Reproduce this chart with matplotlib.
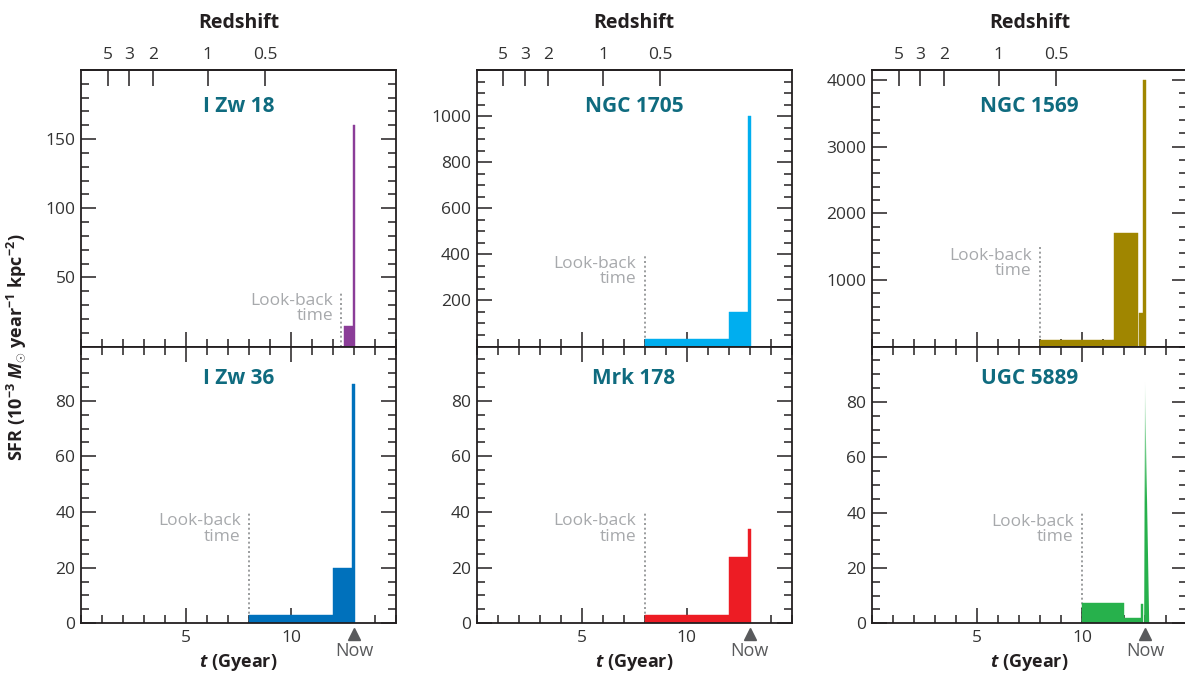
import matplotlib
matplotlib.use("Agg")
import matplotlib.pyplot as plt
import numpy as np
from matplotlib.ticker import MultipleLocator, FixedLocator, NullLocator
from matplotlib.transforms import blended_transform_factory
from matplotlib.colors import LinearSegmentedColormap, to_rgb

plt.rcParams['font.family'] = ['Open Sans', 'DejaVu Sans']
plt.rcParams['mathtext.fontset'] = 'custom'
plt.rcParams['mathtext.rm'] = 'Open Sans:bold'
plt.rcParams['mathtext.it'] = 'Open Sans:bold:italic'
plt.rcParams['mathtext.bf'] = 'Open Sans:bold'

# ---------------- data ----------------
galaxies = ["I Zw 18", "NGC 1705", "NGC 1569", "I Zw 36", "Mrk 178", "UGC 5889"]

# bin edges (Gyr) and SFR per bin (1e-3 Msun/yr/kpc^2)
izw18_edges = [12.5, 12.93, 13.05]
izw18_sfr = [15, 160]

ngc1705_edges = [8.0, 12.0, 12.93, 13.07]
ngc1705_sfr = [33, 150, 1000]

ngc1569_edges_a = [8.0, 11.52, 12.66]
ngc1569_sfr_a = [100, 1700]
ngc1569_edges_b = [12.72, 12.9, 13.05]
ngc1569_sfr_b = [500, 4000]

izw36_edges = [8.0, 12.0, 12.9, 13.05]
izw36_sfr = [3, 20, 86]

mrk178_edges = [8.0, 12.0, 12.93, 13.05]
mrk178_sfr = [3, 24, 34]

ugc5889_edges = [10.0, 12.0, 12.82]
ugc5889_sfr = [7.3, 2]
ugc5889_edges_b = [12.82, 12.92]
ugc5889_sfr_b = [7]
ugc5889_spike_t = [12.96, 13.0, 13.2]
ugc5889_spike_sfr = [0, 87, 0]

lookback_t = [12.4, 8.0, 8.0, 8.0, 8.0, 10.0]
lookback_top = [40, 400, 1500, 40, 40, 40]

now_t = 13.0

redshift_t = [1.27, 2.3, 3.42, 6.04, 8.76]
redshift_labels = ["5", "3", "2", "1", "0.5"]

ylims = [200, 1200, 4150, 99.5, 99.5, 100]
yticks_major = [[50, 100, 150], [200, 400, 600, 800, 1000], [1000, 2000, 3000, 4000],
                [0, 20, 40, 60, 80], [0, 20, 40, 60, 80], [0, 20, 40, 60, 80]]
yticks_minor_step = [10, 50, 200, 5, 5, 5]

colors = ['#8b3d98', '#00aeef', '#a08600', '#0071bc', '#ed1c24', '#27b14c']

# ---------------- style ----------------
AX = '#231f20'
TEAL = '#0f6b7f'
GRAY = '#a7a9ac'
NOWC = '#595a5c'

W, H = 1185, 675
fig = plt.figure(figsize=(W / 100, H / 100), dpi=100)

lefts_px = [81, 476.5, 872]
width_px = 315
top_row = ((H - 346.5) / H, (346.5 - 70) / H)
bot_row = ((H - 623.3) / H, (623.3 - 346.5) / H)

axes = []
for r, (b, h) in enumerate([top_row, bot_row]):
    for c in range(3):
        ax = fig.add_axes([lefts_px[c] / W, b, width_px / W, h])
        axes.append(ax)


def bars(ax, edges, vals, color):
    edges = np.asarray(edges, float)
    ax.bar(edges[:-1], vals, width=np.diff(edges), align='edge', color=color,
           edgecolor=color, linewidth=0.3, zorder=2)


for i, ax in enumerate(axes):
    top = i < 3
    ax.set_xlim(0, 15)
    ax.set_ylim(0, ylims[i])
    for s in ax.spines.values():
        s.set_color(AX)
        s.set_linewidth(1.3)
    ax.xaxis.set_major_locator(FixedLocator([5, 10]))
    ax.xaxis.set_minor_locator(MultipleLocator(1))
    ax.yaxis.set_major_locator(FixedLocator(yticks_major[i]))
    ax.yaxis.set_minor_locator(MultipleLocator(yticks_minor_step[i]))
    ax.tick_params(axis='both', which='major', direction='in', length=10.5, width=1.1,
                   color=AX, labelsize=12.5, labelcolor='#333333')
    ax.tick_params(axis='both', which='minor', direction='in', length=5.5, width=1.1, color=AX)
    ax.tick_params(axis='y', which='both', left=True, right=True, pad=4)
    if top:
        ax.tick_params(axis='x', which='both', top=False, bottom=True, labelbottom=False)
        sec = ax.secondary_xaxis('top')
        sec.set_xticks(redshift_t, labels=redshift_labels)
        sec.xaxis.set_minor_locator(NullLocator())
        sec.tick_params(axis='x', direction='in', length=11.5, width=1.1, color=AX,
                        labelsize=12.5, labelcolor='#333333', pad=5)
        sec.spines['top'].set_linewidth(1.3)
        sec.spines['top'].set_color(AX)
        sec.set_xlabel('Redshift', fontsize=14, fontweight='bold', color=AX, labelpad=14)
        ax.text(0.5, 1 - 36 / 276.5, galaxies[i], transform=ax.transAxes, ha='center',
                va='center', fontsize=15, fontweight='bold', color=TEAL)
    else:
        ax.tick_params(axis='x', which='both', top=True, bottom=True, pad=5)
        ax.set_xlabel(r'$t$ (Gyear)', fontsize=13, fontweight='bold', color=AX, labelpad=4)
        ax.text(0.5, 1 - 32 / 276.8, galaxies[i], transform=ax.transAxes, ha='center',
                va='center', fontsize=15, fontweight='bold', color=TEAL)
        tr = blended_transform_factory(ax.transData, ax.transAxes)
        ax.plot([now_t], [-0.04], marker='^', markersize=9, color=NOWC, transform=tr,
                clip_on=False, linestyle='none')
        ax.text(now_t, -0.1, 'Now', transform=tr, ha='center', va='center',
                fontsize=13, color=NOWC)
    # look-back marker
    ax.plot([lookback_t[i], lookback_t[i]], [0, lookback_top[i]], color='#8a8c8e',
            linestyle=(0, (1.2, 1.6)), linewidth=1.2, zorder=1)
    ax.annotate('Look-back\ntime', xy=(lookback_t[i], lookback_top[i]),
                xytext=(-6, -1), textcoords='offset points', ha='right', va='top',
                fontsize=12.5, color=GRAY, linespacing=0.95, multialignment='right')

bars(axes[0], izw18_edges, izw18_sfr, colors[0])
bars(axes[1], ngc1705_edges, ngc1705_sfr, colors[1])
bars(axes[2], ngc1569_edges_a, ngc1569_sfr_a, colors[2])
bars(axes[2], ngc1569_edges_b, ngc1569_sfr_b, colors[2])
bars(axes[3], izw36_edges, izw36_sfr, colors[3])
bars(axes[4], mrk178_edges, mrk178_sfr, colors[4])
bars(axes[5], ugc5889_edges, ugc5889_sfr, colors[5])
bars(axes[5], ugc5889_edges_b, ugc5889_sfr_b, colors[5])

# gradient-filled spike for UGC 5889
ax = axes[5]
poly = ax.fill(ugc5889_spike_t, ugc5889_spike_sfr, facecolor='none', edgecolor='none')[0]
cmap = LinearSegmentedColormap.from_list('g', [to_rgb(colors[5]), to_rgb(colors[5]),
                                               (0.8, 0.93, 0.83)])
grad = np.linspace(0, 1, 256).reshape(-1, 1)
im = ax.imshow(grad, extent=[min(ugc5889_spike_t), max(ugc5889_spike_t), 0,
                             max(ugc5889_spike_sfr)],
               origin='lower', aspect='auto', cmap=cmap, zorder=2)
im.set_clip_path(poly)
ax.set_xlim(0, 15)
ax.set_ylim(0, ylims[5])

fig.text(16 / W, (H - 347) / H, r'SFR (10$^{-3}$ $M_{\odot}$ year$^{-1}$ kpc$^{-2}$)',
         rotation=90, ha='center', va='center', fontsize=13, fontweight='bold', color=AX)

fig.savefig('out.png', dpi=100)
